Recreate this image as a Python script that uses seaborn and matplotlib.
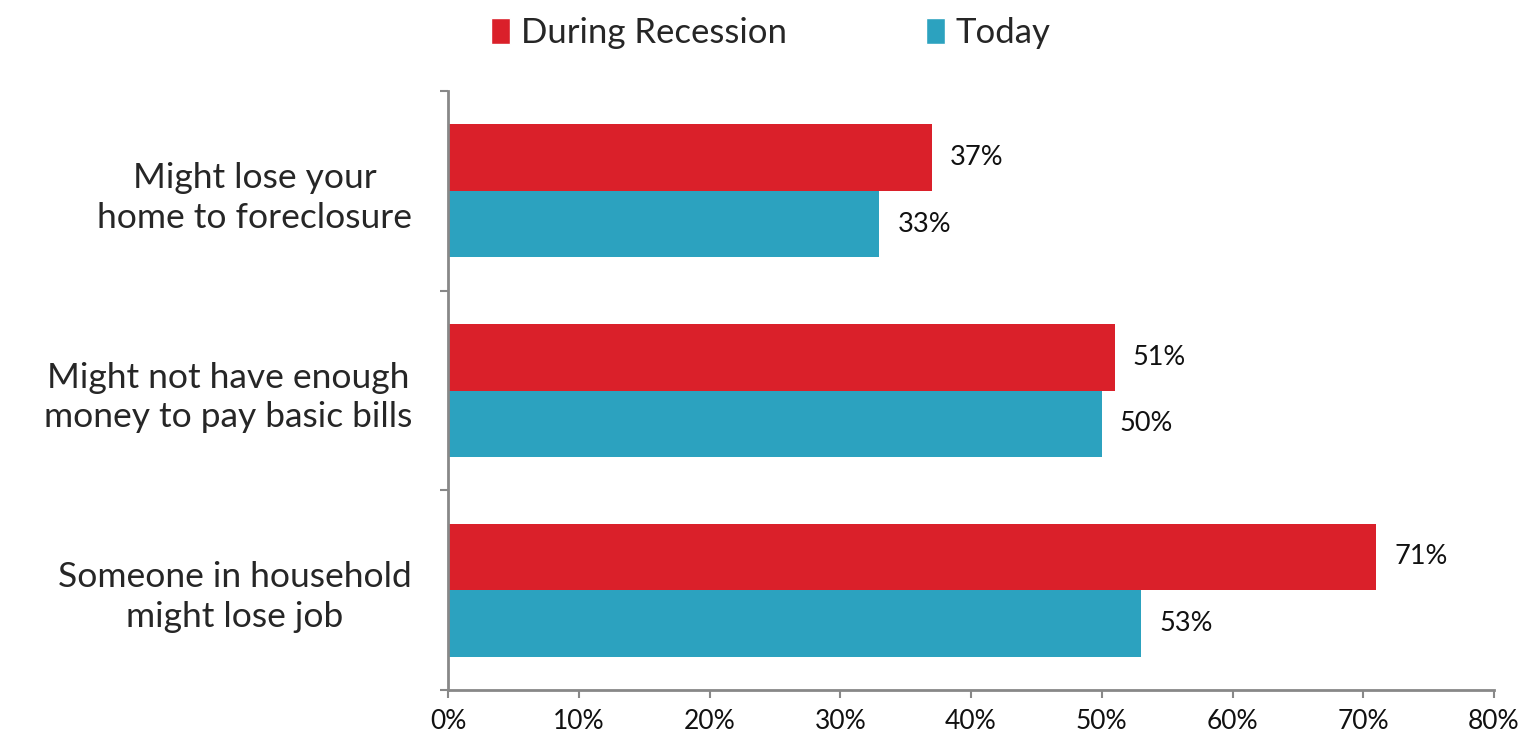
import matplotlib
matplotlib.use("Agg")
import matplotlib.pyplot as plt
import seaborn as sns
import pandas as pd
from matplotlib.patches import Patch
from matplotlib.ticker import FixedLocator, PercentFormatter

categories = ["Might lose your\nhome to foreclosure",
              "Might not have enough\nmoney to pay basic bills",
              "Someone in household\nmight lose job"]
series_names = ["During Recession", "Today"]
during_recession = [37, 51, 71]
today = [33, 50, 53]
x_ticks = [0, 10, 20, 30, 40, 50, 60, 70, 80]

colors = {"During Recession": "#DA202A", "Today": "#2CA2BF"}

sns.set_theme(style="white")
plt.rcParams['font.family'] = ['Lato', 'DejaVu Sans']

df = pd.DataFrame({
    "category": categories * 2,
    "series": [series_names[0]] * 3 + [series_names[1]] * 3,
    "value": during_recession + today,
})

fig = plt.figure(figsize=(15.26, 7.37), dpi=100)
ax = fig.add_axes([448/1526, 1 - 690/737, (1494-448)/1526, (690-91)/737])

sns.barplot(data=df, y="category", x="value", hue="series", order=categories,
            hue_order=series_names, palette=colors, orient="h", width=0.667,
            saturation=1, ax=ax, legend=False, linewidth=0)

for cont in ax.containers:
    for bar in cont:
        w = bar.get_width()
        ax.annotate(f"{w:.0f}%", xy=(w, bar.get_y() + bar.get_height()/2),
                    xytext=(13, 0), textcoords="offset points",
                    va="center", ha="left", fontsize=19.5, color="#111111")

ax.set_xlim(0, 80)
ax.set_ylim(2.5, -0.5)
ax.xaxis.set_major_locator(FixedLocator(x_ticks))
ax.xaxis.set_major_formatter(PercentFormatter(decimals=0))
ax.set_xlabel("")
ax.set_ylabel("")

for s in ["top", "right"]:
    ax.spines[s].set_visible(False)
for s in ["left", "bottom"]:
    ax.spines[s].set_color("#888888")
    ax.spines[s].set_linewidth(2)

ax.set_yticks([0, 1, 2])
ax.set_yticklabels(categories, fontsize=25.5, linespacing=1.3,
                   ha="right", multialignment="center")
ax.tick_params(axis="y", which="major", length=0, pad=26)
ax.set_yticks([-0.5, 0.5, 1.5, 2.5], minor=True)
ax.tick_params(axis="y", which="minor", length=6, width=1.5, color="#888888", left=True)
ax.tick_params(axis="x", which="major", length=6, width=1.5, color="#888888",
               bottom=True, labelsize=19, pad=8)
for lbl in ax.get_xticklabels():
    lbl.set_color("#111111")

handles = [Patch(facecolor=colors[n], label=n) for n in series_names]
fig.legend(handles=handles, loc="center", bbox_to_anchor=(0.505, 0.955), ncol=2,
           frameon=False, fontsize=25, handlelength=0.55, handleheight=0.75,
           handletextpad=0.3, columnspacing=4.0)

fig.savefig("out.png", dpi=100)
